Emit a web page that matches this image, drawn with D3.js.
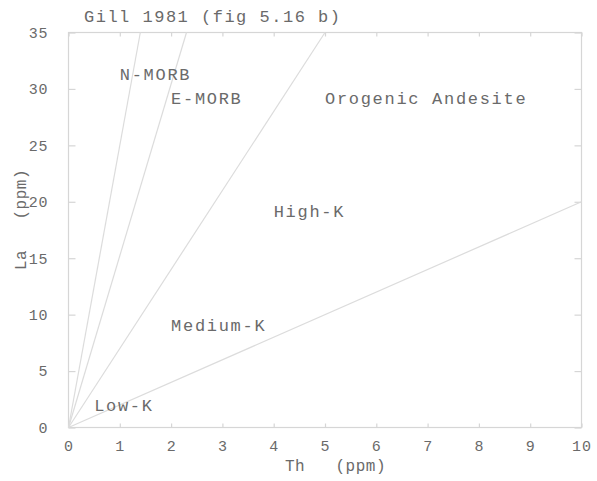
<!DOCTYPE html>
<html>
<head>
<meta charset="utf-8">
<script src="https://cdn.jsdelivr.net/npm/d3@7"></script>
<style>
  html, body { margin: 0; padding: 0; background: #fff; }
  svg text { font-family: "Liberation Mono", "DejaVu Sans Mono", monospace; fill: #6a6a6a; white-space: pre; }
</style>
</head>
<body>
<svg id="chart" width="597" height="481"></svg>
<script>
// Gill 1981 La vs Th discrimination diagram (fig 5.16 b)
const xTicks = [0, 1, 2, 3, 4, 5, 6, 7, 8, 9, 10];
const yTicks = [0, 5, 10, 15, 20, 25, 30, 35];

// Boundary lines radiating from the origin: [Th, La] end points
const boundaryEnds = [[1.4, 35], [2.3, 35], [5, 35], [10, 20]];

// Field names and their anchor positions (left edge, Th / La)
const fieldNames = ["N-MORB", "E-MORB", "Orogenic Andesite", "High-K", "Medium-K", "Low-K"];
const fieldTh = [1.0, 2.0, 5.0, 4.0, 2.0, 0.5];
const fieldLa = [31.3, 29.2, 29.2, 19.2, 9.1, 2];

const title = "Gill 1981 (fig 5.16 b)";
const xLabel = "Th   (ppm)";
const yLabel = "La   (ppm)";

const svg = d3.select("#chart");
const x = d3.scaleLinear().domain([0, 10]).range([68.5, 581.5]);
const y = d3.scaleLinear().domain([0, 35]).range([427.5, 32.5]);

const frameColor = "#d6d6d6";

// frame
svg.append("rect")
  .attr("x", x(0)).attr("y", y(35))
  .attr("width", x(10) - x(0)).attr("height", y(0) - y(35))
  .attr("fill", "none").attr("stroke", frameColor).attr("stroke-width", 1.2);

// x ticks (bottom + mirrored top)
const xAxisB = d3.axisBottom(x).tickValues(xTicks).tickSizeInner(-4).tickSizeOuter(0).tickPadding(13);
const gx = svg.append("g").attr("transform", `translate(0,${y(0)})`).call(xAxisB);
const xAxisT = d3.axisTop(x).tickValues(xTicks).tickSizeInner(-4).tickSizeOuter(0).tickFormat("");
const gxt = svg.append("g").attr("transform", `translate(0,${y(35)})`).call(xAxisT);

// y ticks (left + mirrored right)
const yAxisL = d3.axisLeft(y).tickValues(yTicks).tickSizeInner(-7).tickSizeOuter(0).tickPadding(20);
const gy = svg.append("g").attr("transform", `translate(${x(0)},0)`).call(yAxisL);
const yAxisR = d3.axisRight(y).tickValues(yTicks).tickSizeInner(-7).tickSizeOuter(0).tickFormat("");
const gyr = svg.append("g").attr("transform", `translate(${x(10)},0)`).call(yAxisR);

[gx, gxt, gy, gyr].forEach(g => {
  g.select(".domain").remove();
  g.selectAll(".tick line").attr("stroke", frameColor).attr("stroke-width", 1.2);
  g.selectAll(".tick text").attr("font-size", 15).attr("letter-spacing", 0.9)
    .attr("font-family", "Liberation Mono").style("fill", "#6a6a6a");
});
gx.selectAll(".tick text").attr("dy", "0.71em");

// boundary lines from origin
svg.append("g").selectAll("line")
  .data(boundaryEnds)
  .join("line")
  .attr("x1", x(0)).attr("y1", y(0))
  .attr("x2", d => x(d[0])).attr("y2", d => y(d[1]))
  .attr("stroke", "#dcdcdc").attr("stroke-width", 1.2);

// field labels
svg.append("g").selectAll("text")
  .data(fieldNames)
  .join("text")
  .attr("x", (d, i) => x(fieldTh[i]))
  .attr("y", (d, i) => y(fieldLa[i]))
  .attr("dy", "0.35em")
  .attr("font-size", 17)
  .attr("letter-spacing", 1.7)
  .text(d => d);

// title
svg.append("text")
  .attr("x", 84).attr("y", 22)
  .attr("font-size", 17).attr("letter-spacing", 1.5)
  .text(title);

// axis titles
svg.append("text")
  .attr("x", 285).attr("y", 471)
  .attr("font-size", 16).attr("letter-spacing", 0.5)
  .text(xLabel);

svg.append("text")
  .attr("transform", `translate(26,270) rotate(-90)`)
  .attr("font-size", 16).attr("letter-spacing", 0.5)
  .text(yLabel);
</script>
</body>
</html>
